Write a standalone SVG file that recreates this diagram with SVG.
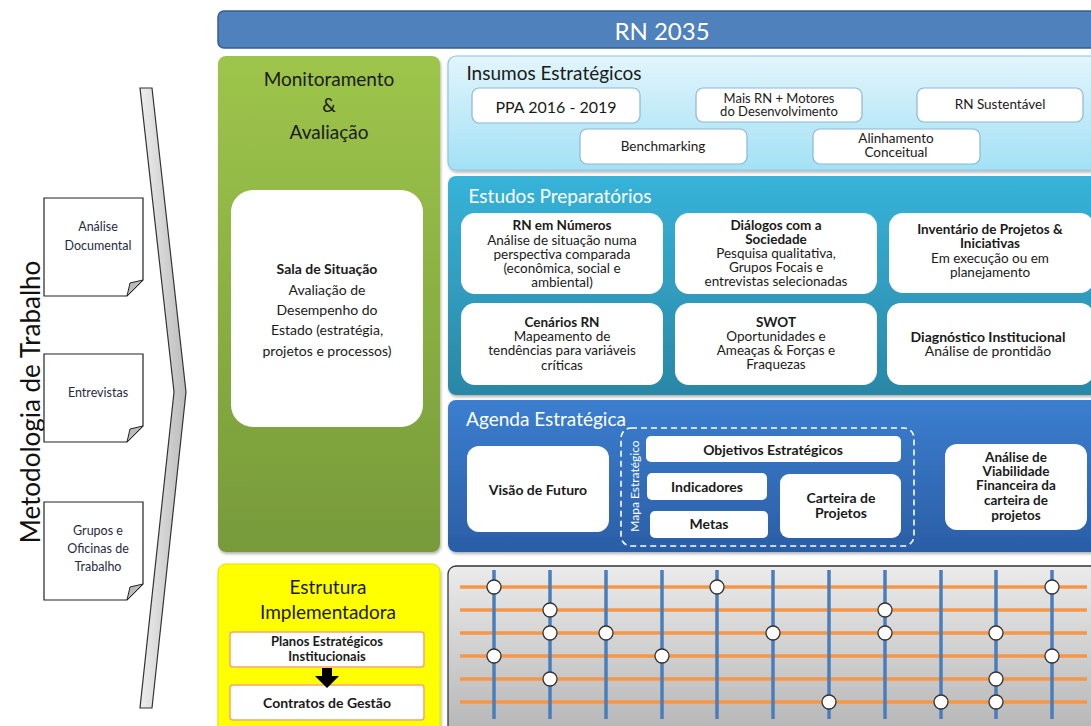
<svg xmlns="http://www.w3.org/2000/svg" width="1091" height="726" viewBox="0 0 1091 726">
<defs>
<linearGradient id="gGreen" x1="0" y1="0" x2="0" y2="1"><stop offset="0" stop-color="#9EC54B"/><stop offset="1" stop-color="#779A3A"/></linearGradient>
<linearGradient id="gIns" x1="0" y1="0" x2="0" y2="1"><stop offset="0" stop-color="#E2F5FC"/><stop offset="1" stop-color="#A3E1F5"/></linearGradient>
<linearGradient id="gEst" x1="0" y1="0" x2="0" y2="1"><stop offset="0" stop-color="#37B3D9"/><stop offset="1" stop-color="#2A87A6"/></linearGradient>
<linearGradient id="gAg" x1="0" y1="0" x2="0" y2="1"><stop offset="0" stop-color="#3B7ECF"/><stop offset="1" stop-color="#2B5EA6"/></linearGradient>
<linearGradient id="gGrid" x1="0" y1="0" x2="0" y2="1"><stop offset="0" stop-color="#EBEBEB"/><stop offset="1" stop-color="#B5B5B5"/></linearGradient>
<linearGradient id="gChev" x1="0" y1="0" x2="1" y2="0"><stop offset="0" stop-color="#EEEEEE"/><stop offset="1" stop-color="#BBBBBB"/></linearGradient>
<filter id="sh" x="-10%" y="-10%" width="120%" height="130%"><feDropShadow dx="1" dy="2" stdDeviation="1.5" flood-color="#000" flood-opacity="0.3"/></filter>
</defs>
<style>
text{font-family:Lato,"Liberation Sans",sans-serif;text-anchor:middle;dominant-baseline:central;fill:#1a1a1a}
.t{font-size:19px}
.wt{fill:#fff}
.s{font-size:14px}
.m{font-size:13.5px}
.b{font-weight:bold}
.box{fill:#fff;stroke:#8DB7D6;stroke-width:1.2}
.wbox{fill:#fff}
.note{fill:#fff;stroke:#222;stroke-width:1.2}
.nt{font-size:12.5px;fill:#1F2A44}
.vl{stroke:#4A7EBB;stroke-width:3.5}
.hl{stroke:#F79646;stroke-width:3.5}
.c{fill:#fff;stroke:#333;stroke-width:1.3}
</style>
<rect width="1091" height="726" fill="#fff"/>

<g id="metodologia">
<text x="30" y="402" transform="rotate(-90 30 402)" style="font-size:26px;fill:#111">Metodologia de Trabalho</text>
</g>
<g id="chevron">
<polygon points="140,88 152,88 186,392 152,708 140,708 174,392" fill="url(#gChev)" stroke="#333" stroke-width="1.2"/>
</g>
<g id="note-analise">
<path class="note" d="M44,198 H143 V280 L127,296 H44 Z"/>
<path d="M143,280 L130,283 L127,296 Z" fill="#bbb" stroke="#222" stroke-width="1"/>
<text class="nt" x="98" y="226">Análise</text>
<text class="nt" x="98" y="245">Documental</text>
</g>
<g id="note-entrevistas">
<path class="note" d="M44,354 H143 V426 L127,442 H44 Z"/>
<path d="M143,426 L130,429 L127,442 Z" fill="#bbb" stroke="#222" stroke-width="1"/>
<text class="nt" x="98" y="392">Entrevistas</text>
</g>
<g id="note-grupos">
<path class="note" d="M44,502 H143 V584 L127,600 H44 Z"/>
<path d="M143,584 L130,587 L127,600 Z" fill="#bbb" stroke="#222" stroke-width="1"/>
<text class="nt" x="98" y="530">Grupos e</text>
<text class="nt" x="98" y="548">Oficinas de</text>
<text class="nt" x="98" y="566">Trabalho</text>
</g>

<g id="banner">
<rect x="218" y="11" width="890" height="37" rx="6" fill="#4F81BD" stroke="#385D8A" stroke-width="1.5"/>
<text x="662" y="30" class="wt" style="font-size:24px">RN 2035</text>
</g>

<g id="monitoramento">
<rect x="218" y="56" width="222" height="496" rx="8" fill="url(#gGreen)" filter="url(#sh)"/>
<text class="t" x="329" y="78">Monitoramento</text>
<text class="t" x="329" y="104">&amp;</text>
<text class="t" x="329" y="131">Avaliação</text>
</g>
<g id="sala">
<rect x="231" y="190" width="192" height="237" rx="22" class="wbox"/>
<text class="s b" x="327" y="268">Sala de Situação</text>
<text class="s" x="327" y="289">Avaliação de</text>
<text class="s" x="327" y="309">Desempenho do</text>
<text class="s" x="327" y="329">Estado (estratégia,</text>
<text class="s" x="327" y="350">projetos e processos)</text>
</g>

<g id="insumos">
<rect x="448" y="56" width="660" height="114" rx="8" fill="url(#gIns)" stroke="#8CC6DD" stroke-width="1.2" filter="url(#sh)"/>
<text class="t" x="554" y="72">Insumos Estratégicos</text>
</g>
<g id="ppa"><rect class="box" x="472" y="88" width="168" height="35" rx="7"/><text x="556" y="106" style="font-size:16px">PPA 2016 - 2019</text></g>
<g id="maisrn"><rect class="box" x="696" y="88" width="166" height="34" rx="7"/><text x="779" y="98" style="font-size:13px">Mais RN + Motores</text><text x="779" y="111" style="font-size:13px">do Desenvolvimento</text></g>
<g id="sustentavel"><rect class="box" x="917" y="88" width="166" height="34" rx="7"/><text x="1000" y="104" style="font-size:13.5px">RN Sustentável</text></g>
<g id="benchmarking"><rect class="box" x="580" y="129" width="167" height="35" rx="7"/><text x="663" y="146" style="font-size:13.5px">Benchmarking</text></g>
<g id="alinhamento"><rect class="box" x="813" y="129" width="167" height="35" rx="7"/><text x="896" y="138" style="font-size:13.5px">Alinhamento</text><text x="896" y="152" style="font-size:13.5px">Conceitual</text></g>

<g id="estudos">
<rect x="448" y="176" width="660" height="219" rx="8" fill="url(#gEst)" filter="url(#sh)"/>
<text class="t wt" x="560" y="195">Estudos Preparatórios</text>
</g>
<g id="rnnumeros"><rect class="wbox" x="461" y="213" width="202" height="81" rx="14"/>
<text class="m b" x="562" y="225">RN em Números</text><text class="m" x="562" y="240">Análise de situação numa</text><text class="m" x="562" y="254">perspectiva comparada</text><text class="m" x="562" y="268">(econômica, social e</text><text class="m" x="562" y="282">ambiental)</text></g>
<g id="dialogos"><rect class="wbox" x="675" y="213" width="202" height="81" rx="14"/>
<text class="m b" x="776" y="225">Diálogos com a</text><text class="m b" x="776" y="239">Sociedade</text><text class="m" x="776" y="253">Pesquisa qualitativa,</text><text class="m" x="776" y="267">Grupos Focais e</text><text class="m" x="776" y="281">entrevistas selecionadas</text></g>
<g id="inventario"><rect class="wbox" x="889" y="213" width="205" height="80" rx="14"/>
<text class="m b" x="990" y="229">Inventário de Projetos &amp;</text><text class="m b" x="990" y="243">Iniciativas</text><text class="m" x="990" y="258">Em execução ou em</text><text class="m" x="990" y="272">planejamento</text></g>
<g id="cenarios"><rect class="wbox" x="461" y="303" width="202" height="82" rx="14"/>
<text class="m b" x="562" y="322">Cenários RN</text><text class="m" x="562" y="336">Mapeamento de</text><text class="m" x="562" y="350">tendências para variáveis</text><text class="m" x="562" y="365">críticas</text></g>
<g id="swot"><rect class="wbox" x="675" y="303" width="202" height="82" rx="14"/>
<text class="m b" x="776" y="322">SWOT</text><text class="m" x="776" y="336">Oportunidades e</text><text class="m" x="776" y="350">Ameaças &amp; Forças e</text><text class="m" x="776" y="364">Fraquezas</text></g>
<g id="diagnostico"><rect class="wbox" x="887" y="303" width="207" height="82" rx="14"/>
<text class="s b" x="988" y="336">Diagnóstico Institucional</text><text class="s" x="988" y="350">Análise de prontidão</text></g>

<g id="agenda">
<rect x="448" y="400" width="660" height="152" rx="8" fill="url(#gAg)" filter="url(#sh)"/>
<text class="t wt" x="546" y="418">Agenda Estratégica</text>
</g>
<g id="visao"><rect class="wbox" x="467" y="446" width="142" height="86" rx="12"/><text class="s b" x="538" y="489">Visão de Futuro</text></g>
<g id="mapa">
<rect x="621" y="428" width="293" height="118" rx="10" fill="none" stroke="#fff" stroke-width="1.6" stroke-dasharray="6 4"/>
<text x="634" y="486" transform="rotate(-90 634 486)" class="wt" style="font-size:12px">Mapa Estratégico</text>
</g>
<g id="objetivos"><rect class="wbox" x="646" y="436" width="255" height="26" rx="5"/><text class="s b" x="773" y="449">Objetivos Estratégicos</text></g>
<g id="indicadores"><rect class="wbox" x="647" y="473" width="120" height="27" rx="5"/><text class="s b" x="707" y="486">Indicadores</text></g>
<g id="metas"><rect class="wbox" x="650" y="511" width="118" height="27" rx="5"/><text class="s b" x="709" y="523">Metas</text></g>
<g id="carteira"><rect class="wbox" x="780" y="474" width="121" height="64" rx="9"/><text class="s b" x="841" y="497">Carteira de</text><text class="s b" x="841" y="512">Projetos</text></g>
<g id="viabilidade"><rect class="wbox" x="945" y="444" width="142" height="86" rx="12"/>
<text class="m b" x="1016" y="457">Análise de</text><text class="m b" x="1016" y="471">Viabilidade</text><text class="m b" x="1016" y="485">Financeira da</text><text class="m b" x="1016" y="500">carteira de</text><text class="m b" x="1016" y="515">projetos</text></g>

<g id="estrutura">
<rect x="218" y="564" width="222" height="170" rx="8" fill="#FFFF00" stroke="#E0E000" stroke-width="1" filter="url(#sh)"/>
<text class="t" x="328" y="586">Estrutura</text>
<text class="t" x="328" y="611">Implementadora</text>
</g>
<g id="planos"><rect x="230" y="632" width="194" height="35" rx="3" fill="#fff" stroke="#F4A672" stroke-width="1.5"/>
<text class="b" x="327" y="641" style="font-size:13px">Planos Estratégicos</text><text class="b" x="327" y="656" style="font-size:13px">Institucionais</text></g>
<g id="contratos"><rect x="230" y="685" width="194" height="35" rx="3" fill="#fff" stroke="#F4A672" stroke-width="1.5"/>
<text class="s b" x="327" y="702">Contratos de Gestão</text></g>

<g id="connectors">
<polygon points="322,668 332,668 332,676 339,676 327,688 315,676 322,676" fill="#000"/>
</g>

<g id="grid">
<rect x="448" y="566" width="660" height="170" rx="8" fill="url(#gGrid)" stroke="#333" stroke-width="1.3"/>
<g class="hlines">
<line class="hl" x1="460" y1="587" x2="1087" y2="587"/>
<line class="hl" x1="460" y1="610" x2="1087" y2="610"/>
<line class="hl" x1="460" y1="633" x2="1087" y2="633"/>
<line class="hl" x1="460" y1="656" x2="1087" y2="656"/>
<line class="hl" x1="460" y1="679" x2="1087" y2="679"/>
<line class="hl" x1="460" y1="702" x2="1087" y2="702"/>
</g>
<g class="vlines">
<line class="vl" x1="494" y1="570" x2="494" y2="719"/>
<line class="vl" x1="550" y1="570" x2="550" y2="719"/>
<line class="vl" x1="606" y1="570" x2="606" y2="719"/>
<line class="vl" x1="662" y1="570" x2="662" y2="719"/>
<line class="vl" x1="717" y1="570" x2="717" y2="719"/>
<line class="vl" x1="773" y1="570" x2="773" y2="719"/>
<line class="vl" x1="829" y1="570" x2="829" y2="719"/>
<line class="vl" x1="885" y1="570" x2="885" y2="719"/>
<line class="vl" x1="941" y1="570" x2="941" y2="719"/>
<line class="vl" x1="996" y1="570" x2="996" y2="719"/>
<line class="vl" x1="1052" y1="570" x2="1052" y2="719"/>
</g>
<g class="dots">
<circle class="c" cx="494" cy="587" r="7"/><circle class="c" cx="494" cy="656" r="7"/>
<circle class="c" cx="550" cy="610" r="7"/><circle class="c" cx="550" cy="633" r="7"/><circle class="c" cx="550" cy="679" r="7"/>
<circle class="c" cx="606" cy="633" r="7"/>
<circle class="c" cx="662" cy="656" r="7"/>
<circle class="c" cx="717" cy="587" r="7"/>
<circle class="c" cx="773" cy="633" r="7"/>
<circle class="c" cx="829" cy="702" r="7"/>
<circle class="c" cx="885" cy="610" r="7"/><circle class="c" cx="885" cy="633" r="7"/>
<circle class="c" cx="941" cy="702" r="7"/>
<circle class="c" cx="996" cy="633" r="7"/><circle class="c" cx="996" cy="679" r="7"/><circle class="c" cx="996" cy="702" r="7"/>
<circle class="c" cx="1052" cy="587" r="7"/><circle class="c" cx="1052" cy="656" r="7"/>
</g>
</g>
</svg>
